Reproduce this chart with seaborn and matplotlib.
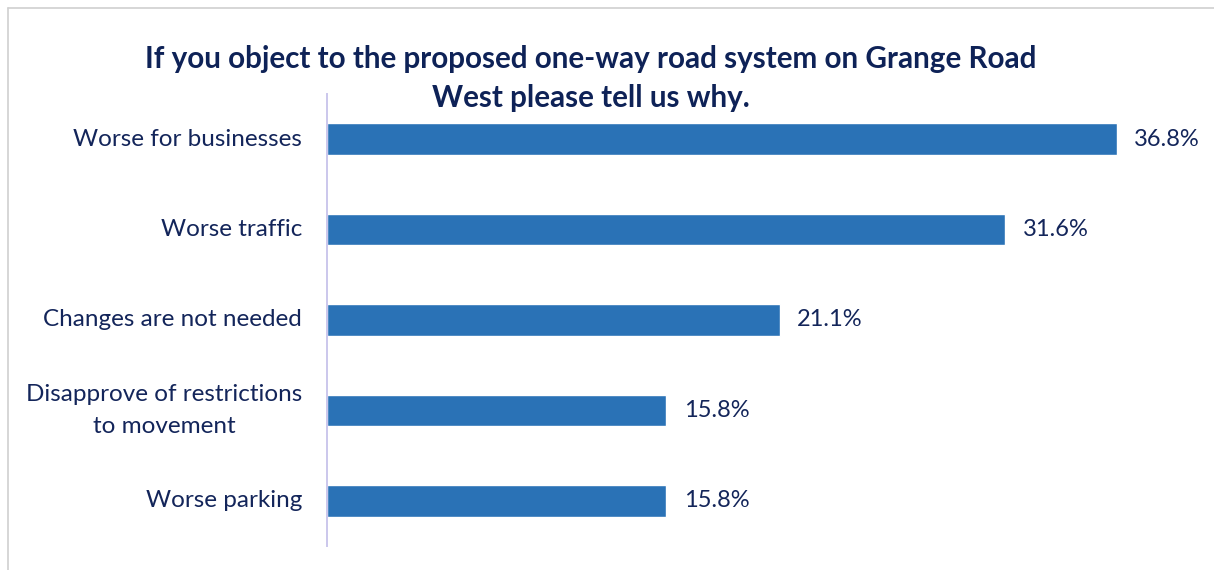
import matplotlib
matplotlib.use("Agg")
import matplotlib.pyplot as plt
from matplotlib.lines import Line2D
import seaborn as sns
import pandas as pd

# Survey responses: reasons for objecting
reasons = [
    "Worse for businesses",
    "Worse traffic",
    "Changes are not needed",
    "Disapprove of restrictions\nto movement",
    "Worse parking",
]
shares = [36.8, 31.6, 21.1, 15.8, 15.8]
title_text = ("If you object to the proposed one-way road system on Grange Road\n"
              "West please tell us why.")

BAR_BLUE = "#2A72B6"
NAVY = "#13255A"
TITLE_NAVY = "#0E2257"
AXIS_LAVENDER = "#CBC7EC"

sns.set_theme(style="white")
plt.rcParams["font.family"] = ["Lato", "DejaVu Sans"]

df = pd.DataFrame({"reason": reasons, "share": shares})

W, H = 1214, 570
fig = plt.figure(figsize=(W / 100, H / 100), dpi=100)
ax = fig.add_axes([327 / W, 1 - 546 / H, (1190 - 327) / W, (546 - 94) / H])

sns.barplot(data=df, x="share", y="reason", orient="h", color=BAR_BLUE,
            width=0.35, saturation=1, ax=ax)

ax.set_xlim(0, 40.2)
ax.set_xlabel("")
ax.set_ylabel("")
ax.set_xticks([])
for side in ("top", "right", "bottom"):
    ax.spines[side].set_visible(False)
ax.spines["left"].set_color(AXIS_LAVENDER)
ax.spines["left"].set_linewidth(1.4)

ax.tick_params(axis="y", length=0, pad=18, labelsize=17.5, labelcolor=NAVY)
for lbl in ax.get_yticklabels():
    lbl.set_multialignment("center")
    lbl.set_linespacing(1.65)
    lbl.set_verticalalignment("center")

ax.bar_label(ax.containers[0], labels=[f"{v:.1f}%" for v in shares],
             padding=12.5, fontsize=17, color=NAVY)

fig.text(591 / W, 1 - 78.5 / H, title_text, ha="center", va="center",
         fontsize=21.3, fontweight="bold", color=TITLE_NAVY, linespacing=1.47)

# Outer frame edges
frame_kw = dict(color="#D0D0D0", linewidth=1.2, transform=fig.transFigure)
fig.add_artist(Line2D([7.5 / W, 7.5 / W], [0, 1 - 7.5 / H], **frame_kw))
fig.add_artist(Line2D([7.5 / W, 1], [1 - 7.5 / H, 1 - 7.5 / H], **frame_kw))

fig.savefig("out.png", dpi=100, facecolor="white")
